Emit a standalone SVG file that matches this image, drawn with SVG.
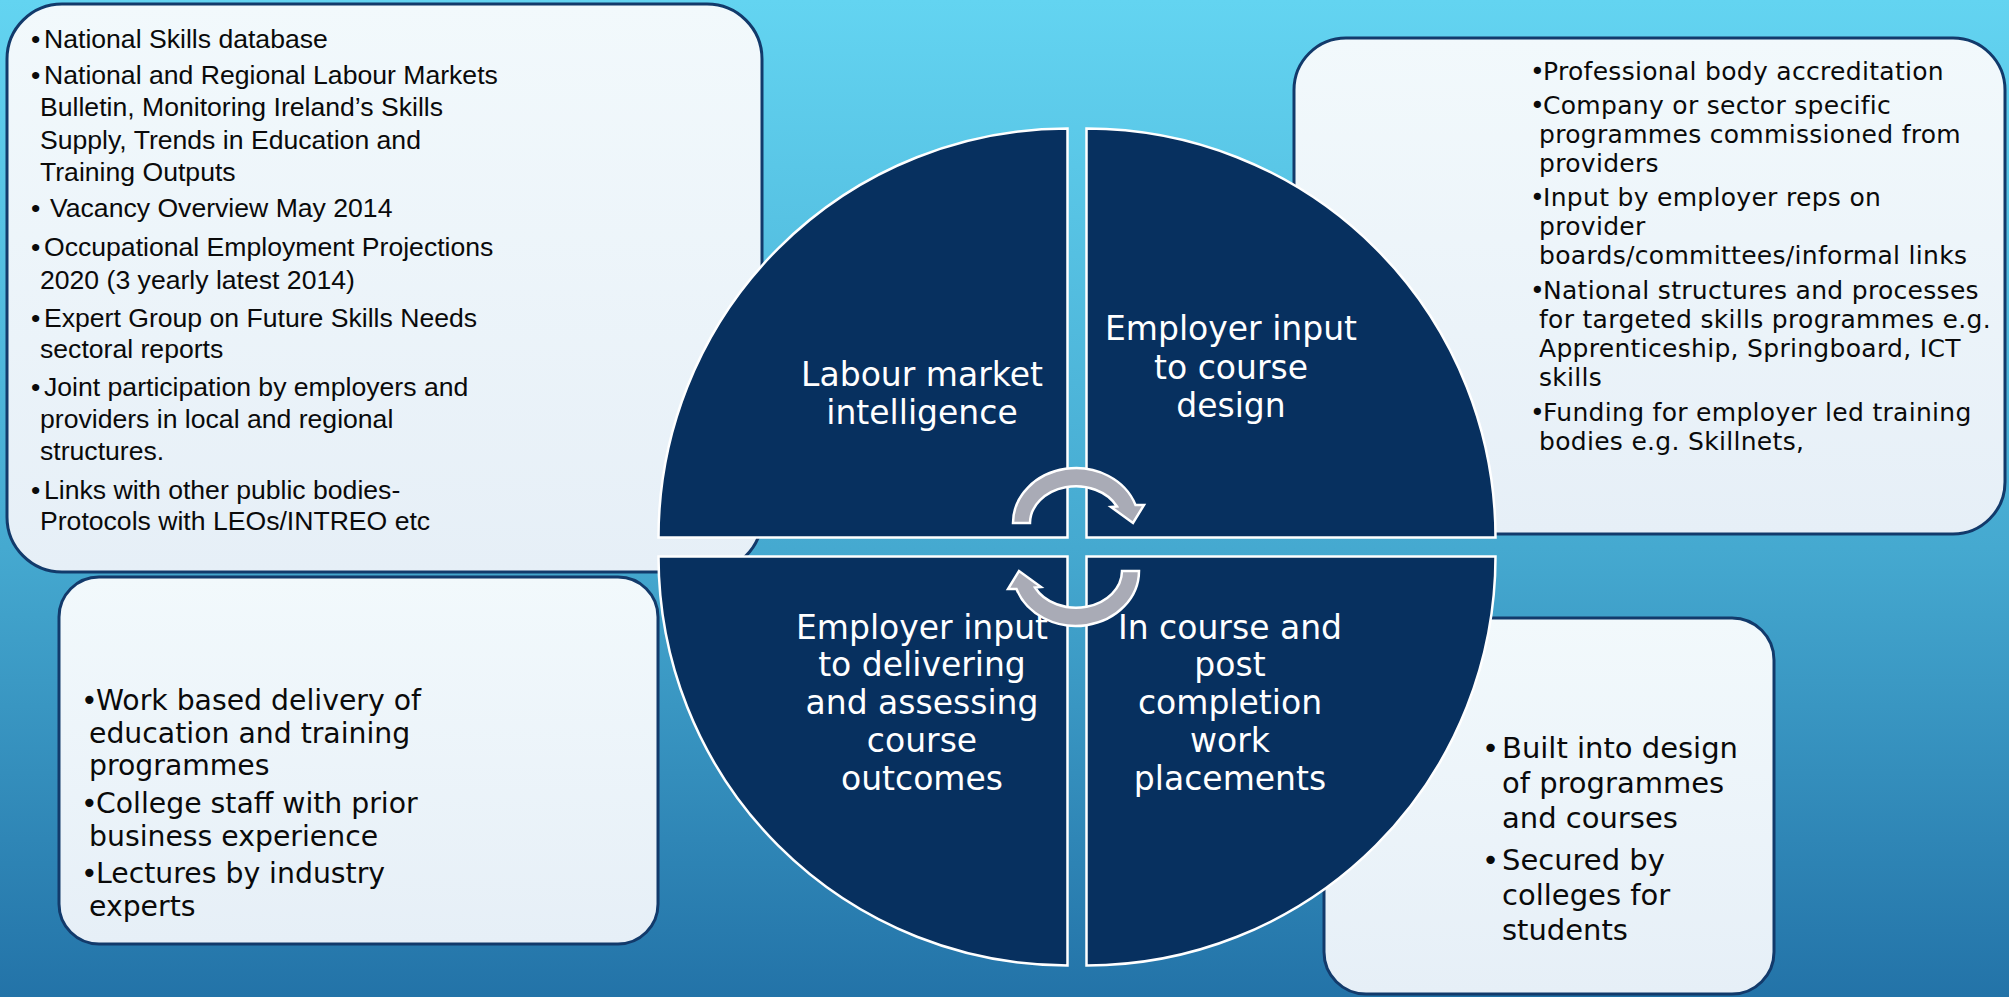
<svg xmlns="http://www.w3.org/2000/svg" width="2009" height="997" viewBox="0 0 2009 997">
  <defs>
    <linearGradient id="bg" x1="0" y1="0" x2="0" y2="1">
      <stop offset="0" stop-color="#63d4f1"/>
      <stop offset="0.55" stop-color="#45a9d0"/>
      <stop offset="1" stop-color="#2373a8"/>
    </linearGradient>
    <linearGradient id="boxFill" x1="0" y1="0" x2="0" y2="1">
      <stop offset="0" stop-color="#f2f9fc"/>
      <stop offset="1" stop-color="#e6eff7"/>
    </linearGradient>
    <style>
      .box{fill:url(#boxFill);stroke:#123a6b;stroke-width:3}
      .quad{fill:#07305f;stroke:#ffffff;stroke-width:2.5}
      .arrow{fill:#a9abb6;stroke:#ffffff;stroke-width:2.5;stroke-linejoin:miter}
      .cal{font-family:"Liberation Sans",Arial,sans-serif;font-size:26.6px;fill:#0a0a0a}
      .cg{font-family:"DejaVu Sans",Verdana,sans-serif;fill:#0a0a0a}
      .tr{font-size:25px;letter-spacing:0.3px}
      .bl{font-size:28.3px}
      .br{font-size:29px}
      .lbl{font-family:"DejaVu Sans",Verdana,sans-serif;font-size:33px;fill:#ffffff;text-anchor:middle}
    </style>
  </defs>

  <!-- backdrop -->
  <rect x="0" y="0" width="2009" height="997" fill="url(#bg)"/>

  <!-- evidence boxes behind the wheel -->
  <g id="box-lmi-sources">
    <rect class="box" x="7" y="4" width="755" height="568" rx="55" ry="55"/>
    <text class="cal" y="48"><tspan x="31">•</tspan><tspan x="44">National Skills database</tspan></text>
    <text class="cal" y="84"><tspan x="31">•</tspan><tspan x="44">National and Regional Labour Markets</tspan></text>
    <text class="cal" x="40" y="116">Bulletin, Monitoring Ireland’s Skills</text>
    <text class="cal" x="40" y="149">Supply, Trends in Education and</text>
    <text class="cal" x="40" y="181">Training Outputs</text>
    <text class="cal" y="217"><tspan x="31">•</tspan><tspan x="50">Vacancy Overview May 2014</tspan></text>
    <text class="cal" y="256"><tspan x="31">•</tspan><tspan x="44">Occupational Employment Projections</tspan></text>
    <text class="cal" x="40" y="289">2020 (3 yearly latest 2014)</text>
    <text class="cal" y="327"><tspan x="31">•</tspan><tspan x="44">Expert Group on Future Skills Needs</tspan></text>
    <text class="cal" x="40" y="358">sectoral reports</text>
    <text class="cal" y="396"><tspan x="31">•</tspan><tspan x="44">Joint participation by employers and</tspan></text>
    <text class="cal" x="40" y="428">providers in local and regional</text>
    <text class="cal" x="40" y="460">structures.</text>
    <text class="cal" y="499"><tspan x="31">•</tspan><tspan x="44">Links with other public bodies-</tspan></text>
    <text class="cal" x="40" y="530">Protocols with LEOs/INTREO etc</text>
  </g>

  <g id="box-design-inputs">
    <rect class="box" x="1294" y="38" width="711" height="496" rx="52" ry="52"/>
    <text class="cg tr" y="80"><tspan x="1530">•</tspan><tspan x="1543">Professional body accreditation</tspan></text>
    <text class="cg tr" y="114"><tspan x="1530">•</tspan><tspan x="1543">Company or sector specific</tspan></text>
    <text class="cg tr" x="1539" y="143">programmes commissioned from</text>
    <text class="cg tr" x="1539" y="172">providers</text>
    <text class="cg tr" y="206"><tspan x="1530">•</tspan><tspan x="1543">Input by employer reps on</tspan></text>
    <text class="cg tr" x="1539" y="235">provider</text>
    <text class="cg tr" x="1539" y="264">boards/committees/informal links</text>
    <text class="cg tr" y="299"><tspan x="1530">•</tspan><tspan x="1543">National structures and processes</tspan></text>
    <text class="cg tr" x="1539" y="328">for targeted skills programmes e.g.</text>
    <text class="cg tr" x="1539" y="357">Apprenticeship, Springboard, ICT</text>
    <text class="cg tr" x="1539" y="386">skills</text>
    <text class="cg tr" y="421"><tspan x="1530">•</tspan><tspan x="1543">Funding for employer led training</tspan></text>
    <text class="cg tr" x="1539" y="450">bodies e.g. Skillnets,</text>
  </g>

  <g id="box-delivery-inputs">
    <rect class="box" x="59" y="577" width="599" height="367" rx="40" ry="40"/>
    <text class="cg bl" y="710"><tspan x="81">•</tspan><tspan x="96">Work based delivery of</tspan></text>
    <text class="cg bl" x="89" y="742.5">education and training</text>
    <text class="cg bl" x="89" y="775">programmes</text>
    <text class="cg bl" y="813"><tspan x="81">•</tspan><tspan x="96">College staff with prior</tspan></text>
    <text class="cg bl" x="89" y="845.5">business experience</text>
    <text class="cg bl" y="883"><tspan x="81">•</tspan><tspan x="96">Lectures by industry</tspan></text>
    <text class="cg bl" x="89" y="915.5">experts</text>
  </g>

  <g id="box-placements">
    <rect class="box" x="1324" y="618" width="450" height="376" rx="42" ry="42"/>
    <text class="cg br" y="758"><tspan x="1482">•</tspan><tspan x="1502">Built into design</tspan></text>
    <text class="cg br" x="1502" y="793">of programmes</text>
    <text class="cg br" x="1502" y="828">and courses</text>
    <text class="cg br" y="870"><tspan x="1482">•</tspan><tspan x="1502">Secured by</tspan></text>
    <text class="cg br" x="1502" y="905">colleges for</text>
    <text class="cg br" x="1502" y="940">students</text>
  </g>

  <!-- four-quadrant wheel -->
  <g id="quad-labour-market">
    <path class="quad" d="M1067.5,537.5 L658.5,537.5 A409,409 0 0 1 1067.5,128.5 Z"/>
    <text class="lbl" x="922" y="386">Labour market</text>
    <text class="lbl" x="922" y="424">intelligence</text>
  </g>
  <g id="quad-course-design">
    <path class="quad" d="M1086.5,537.5 L1086.5,128.5 A409,409 0 0 1 1495.5,537.5 Z"/>
    <text class="lbl" x="1231" y="340">Employer input</text>
    <text class="lbl" x="1231" y="379">to course</text>
    <text class="lbl" x="1231" y="417">design</text>
  </g>
  <g id="quad-delivery">
    <path class="quad" d="M1067.5,556.5 L1067.5,965.5 A409,409 0 0 1 658.5,556.5 Z"/>
    <text class="lbl" x="922" y="639">Employer input</text>
    <text class="lbl" x="922" y="676">to delivering</text>
    <text class="lbl" x="922" y="714">and assessing</text>
    <text class="lbl" x="922" y="752">course</text>
    <text class="lbl" x="922" y="790">outcomes</text>
  </g>
  <g id="quad-placements">
    <path class="quad" d="M1086.5,556.5 L1495.5,556.5 A409,409 0 0 1 1086.5,965.5 Z"/>
    <text class="lbl" x="1230" y="639">In course and</text>
    <text class="lbl" x="1230" y="676">post</text>
    <text class="lbl" x="1230" y="714">completion</text>
    <text class="lbl" x="1230" y="752">work</text>
    <text class="lbl" x="1230" y="790">placements</text>
  </g>

  <!-- circular arrows linking the quadrants -->
  <g id="connectors">
    <path id="cycle-arrow-top" class="arrow" d="M1030,523 L1013,523 A63,55 0 0 1 1135.5,505 L1144,505 L1133,523 L1111,507 L1117,506.5 A46,37 0 0 0 1030,523 Z"/>
    <path id="cycle-arrow-bottom" class="arrow" transform="rotate(180 1076 547)" d="M1030,523 L1013,523 A63,55 0 0 1 1135.5,505 L1144,505 L1133,523 L1111,507 L1117,506.5 A46,37 0 0 0 1030,523 Z"/>
  </g>
</svg>
